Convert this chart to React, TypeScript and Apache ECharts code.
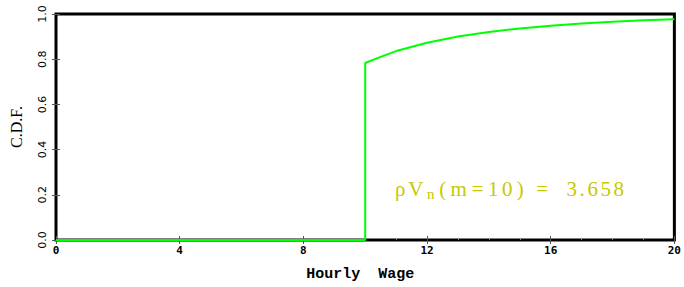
import React, { useEffect, useRef } from "react";
import * as echarts from "echarts";

const wage: number[] = [0, 10, 10, 10.5, 11, 12, 13, 14, 15, 16, 17, 18, 19, 20];
const cdf: number[] = [0, 0, 0.783, 0.81, 0.836, 0.873, 0.9, 0.92, 0.936, 0.948, 0.958, 0.966, 0.972, 0.977];
const xTicks: number[] = [0, 4, 8, 12, 16, 20];
const yTicks: number[] = [0, 0.2, 0.4, 0.6, 0.8, 1.0];
const annotationValue = "3.658";

export default function App() {
  const ref = useRef<HTMLDivElement>(null);
  useEffect(() => {
    if (!ref.current) return;
    const chart = echarts.init(ref.current, null, { renderer: "svg" });
    const tickStyle = { show: true, inside: true, length: 4, lineStyle: { color: "#555", width: 1 } };
    const col = "#c8c800";
    const base = { fontFamily: "Liberation Serif", fontSize: 21, fill: col, color: col, align: "center" };
    // glyph-by-glyph layout to mimic the wide-spaced plotting font
    const glyphs: [string, number, boolean?][] = [
      ["ρ", 14], ["V", 17], ["n", 13, true], ["(", 11], ["m", 21], ["=", 17], ["1", 14], ["0", 14], [")", 12],
      [" ", 9], ["=", 14], [" ", 16],
      ...annotationValue.split("").map((c): [string, number] => [c, c === "." ? 8 : 13]),
    ];
    const rich: Record<string, any> = {};
    let text = "";
    glyphs.forEach(([c, w, sub], i) => {
      const key = "g" + i;
      rich[key] = sub
        ? { ...base, fontSize: 15, width: w, padding: [11, 0, 0, 0] }
        : { ...base, width: w };
      text += "{" + key + "|" + (c === " " ? "\u00a0" : c) + "}";
    });
    chart.setOption({
      animation: false,
      backgroundColor: "#fff",
      grid: {
        left: 56,
        right: 4,
        top: 14,
        bottom: 47,
        show: true,
        borderColor: "#000",
        borderWidth: 3,
      },
      xAxis: [
        {
          type: "value",
          min: xTicks[0],
          max: xTicks[xTicks.length - 1],
          interval: 4,
          name: "Hourly  Wage",
          nameLocation: "middle",
          nameGap: 27,
          nameTextStyle: {
            fontFamily: "Liberation Mono",
            fontWeight: "bold",
            fontSize: 15,
            color: "#000",
            padding: [0, 10, 0, 0],
          },
          axisLine: { show: false },
          axisTick: tickStyle,
          minorTick: { show: true, splitNumber: 4, length: 2, lineStyle: { color: "#888" } },
          splitLine: { show: false },
          axisLabel: { fontFamily: "DejaVu Sans Mono", fontWeight: "bold", fontSize: 11, color: "#000", margin: 5 },
        },
        {
          type: "value",
          position: "top",
          min: xTicks[0],
          max: xTicks[xTicks.length - 1],
          interval: 4,
          axisLine: { show: false },
          axisTick: tickStyle,
          splitLine: { show: false },
          axisLabel: { show: false },
        },
      ],
      yAxis: [
        {
          type: "value",
          min: yTicks[0],
          max: yTicks[yTicks.length - 1],
          interval: 0.2,
          name: "C.D.F.",
          nameLocation: "middle",
          nameGap: 32,
          nameRotate: 90,
          nameTextStyle: { fontFamily: "Liberation Serif", fontSize: 16, color: "#000" },
          axisLine: { show: false },
          axisTick: tickStyle,
          splitLine: { show: false },
          axisLabel: {
            rotate: 90,
            fontFamily: "DejaVu Sans",
            fontSize: 11,
            color: "#000",
            margin: 8,
            formatter: (v: number) => v.toFixed(1),
          },
        },
        {
          type: "value",
          position: "right",
          min: yTicks[0],
          max: yTicks[yTicks.length - 1],
          interval: 0.2,
          axisLine: { show: false },
          axisTick: tickStyle,
          splitLine: { show: false },
          axisLabel: { show: false },
        },
      ],
      graphic: [
        {
          type: "text",
          left: 395,
          top: 178,
          style: { text, rich },
        },
      ],
      series: [
        {
          type: "line",
          xAxisIndex: 0,
          yAxisIndex: 0,
          data: wage.map((w, i) => [w, cdf[i]]),
          symbol: "none",
          smooth: false,
          lineStyle: { color: "#00ff00", width: 2 },
          z: 5,
        },
      ],
    });
    return () => chart.dispose();
  }, []);
  return <div ref={ref} style={{ width: 684, height: 287, position: "absolute", left: 0, top: 0 }} />;
}
